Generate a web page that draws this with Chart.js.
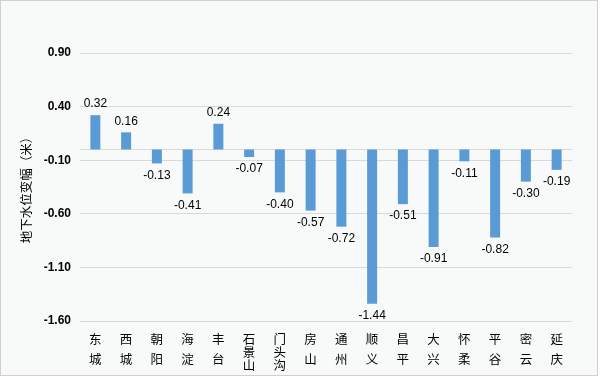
<!DOCTYPE html>
<html>
<head>
<meta charset="utf-8">
<script src="https://cdn.jsdelivr.net/npm/chart.js@4"></script>
<style>
  html, body { margin: 0; padding: 0; background: #ffffff; }
  canvas { display: block; }
</style>
</head>
<body>
<canvas id="chart" width="600" height="377"></canvas>
<script>
const districts = ['东城', '西城', '朝阳', '海淀', '丰台', '石景山', '门头沟', '房山',
  '通州', '顺义', '昌平', '大兴', '怀柔', '平谷', '密云', '延庆'];
const levelChange = [0.32, 0.16, -0.13, -0.41, 0.24, -0.07, -0.40, -0.57, -0.72, -1.44, -0.51, -0.91, -0.11, -0.82, -0.30, -0.19];
const yTicks = [-1.60, -1.10, -0.60, -0.10, 0.40, 0.90];
const yTitle = '地下水位变幅（米）';

// names are written one character per line; two-character names get
// looser spacing than three-character ones (blank lines act as spacers)
function stackName(name) {
  const chars = name.split('');
  const gap = chars.length > 2 ? 1 : 2;
  const lines = [];
  chars.forEach((c, i) => {
    if (i > 0) for (let k = 0; k < gap; k++) lines.push('');
    lines.push(c);
  });
  return lines;
}

// panel background + thin frame
const framePlugin = {
  id: 'frame',
  beforeDraw(chart) {
    const ctx = chart.ctx;
    ctx.save();
    ctx.fillStyle = '#f8faf9';
    ctx.fillRect(0, 0, 598, 376);
    ctx.strokeStyle = '#d0d0d0';
    ctx.lineWidth = 1;
    ctx.strokeRect(0.5, 0.5, 597, 375);
    ctx.restore();
  }
};

// horizontal line at zero, it isn't one of the ticks
const zeroLine = {
  id: 'zeroLine',
  beforeDatasetsDraw(chart) {
    const { ctx, chartArea, scales } = chart;
    const y = Math.round(scales.y.getPixelForValue(0)) + 0.5;
    ctx.save();
    ctx.strokeStyle = '#d9d9d9';
    ctx.lineWidth = 1;
    ctx.beginPath();
    ctx.moveTo(chartArea.left, y);
    ctx.lineTo(chartArea.right, y);
    ctx.stroke();
    ctx.restore();
  }
};

// value labels above / below the bars
const valueLabels = {
  id: 'valueLabels',
  afterDatasetsDraw(chart) {
    const ctx = chart.ctx;
    const meta = chart.getDatasetMeta(0);
    ctx.save();
    ctx.font = '12px "Liberation Sans", Arial, sans-serif';
    ctx.fillStyle = '#000000';
    ctx.textAlign = 'center';
    meta.data.forEach((bar, i) => {
      const v = levelChange[i];
      if (v >= 0) {
        ctx.textBaseline = 'bottom';
        ctx.fillText(v.toFixed(2), bar.x, bar.y - 5);
      } else {
        ctx.textBaseline = 'top';
        ctx.fillText(v.toFixed(2), bar.x, bar.y + 6);
      }
    });
    ctx.restore();
  }
};

new Chart(document.getElementById('chart').getContext('2d'), {
  type: 'bar',
  data: {
    labels: districts,
    datasets: [{
      data: levelChange,
      backgroundColor: '#5b9bd5',
      borderWidth: 0,
      barPercentage: 0.65,
      categoryPercentage: 0.5
    }]
  },
  options: {
    responsive: false,
    animation: false,
    devicePixelRatio: 1,
    layout: { padding: { top: 53, right: 28, bottom: 0, left: 0 } },
    plugins: {
      legend: { display: false },
      tooltip: { enabled: false }
    },
    scales: {
      x: {
        grid: { display: false },
        border: { display: false },
        ticks: {
          color: '#000000',
          padding: 7,
          maxRotation: 0,
          autoSkip: false,
          font: { family: '"Noto Sans CJK SC", sans-serif', size: 12.5, lineHeight: '6.6px' },
          callback(value) { return stackName(this.getLabelForValue(value)); }
        },
        afterFit(scale) { scale.height = 56; }
      },
      y: {
        min: -1.6,
        max: 0.9,
        afterBuildTicks(scale) {
          scale.ticks = yTicks.map(v => ({ value: v }));
        },
        grid: { color: '#d9d9d9', drawTicks: false },
        border: { display: false },
        ticks: {
          color: '#000000',
          padding: 9,
          font: { family: '"Liberation Sans", Arial, sans-serif', size: 12, weight: 'bold' },
          callback: (v) => Number(v).toFixed(2)
        },
        title: {
          display: true,
          text: yTitle,
          color: '#000000',
          padding: { top: 19, bottom: 0 },
          font: { family: '"Noto Sans CJK SC", sans-serif', size: 12.5 }
        },
        afterFit(scale) { scale.width = 80; }
      }
    }
  },
  plugins: [framePlugin, zeroLine, valueLabels]
});
</script>
</body>
</html>
